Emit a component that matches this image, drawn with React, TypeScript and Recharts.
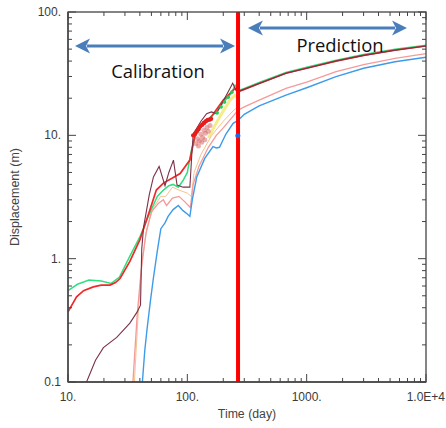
import { ComposedChart, Line, Scatter, XAxis, YAxis, ReferenceLine } from "recharts";

// axis ticks (log-log)
const X_MAJOR = [10, 100, 1000, 10000];
const X_LABELS = ["10.", "100.", "1000.", "1.0E+4"];
const X_MINOR = [20, 30, 40, 50, 60, 70, 80, 90, 200, 300, 400, 500, 600, 700, 800, 900, 2000, 3000, 4000, 5000, 6000, 7000, 8000, 9000];
const Y_MAJOR = [0.1, 1, 10, 100];
const Y_LABELS = ["0.1", "1.", "10.", "100."];
const Y_MINOR = [0.2, 0.3, 0.4, 0.5, 0.6, 0.7, 0.8, 0.9, 2, 3, 4, 5, 6, 7, 8, 9, 20, 30, 40, 50, 60, 70, 80, 90];
const X_DOMAIN = [10, 10000];
const Y_DOMAIN = [0.1, 100];

// end of calibration period (day)
const CALIBRATION_END = 266;

// simulated displacement curves: [time (day), displacement (m)]
const green = [
  [10, 0.55], [12, 0.62], [15, 0.67], [19, 0.66], [23, 0.63], [27, 0.71], [33, 1.05], [40, 1.5],
  [48, 2.3], [56, 3.2], [63, 3.6], [70, 3.9], [76, 4.0], [84, 3.8], [92, 4.3], [100, 5.0],
  [108, 7.5], [116, 9.7], [135, 12.5], [155, 14], [176, 15.5], [200, 18.5], [235, 22], [251, 25.5],
  [266, 23], [300, 24], [400, 26.8], [671, 32.4], [1000, 35.6], [1762, 40.6], [3000, 45.2], [5500, 49.8], [10000, 53.8],
];
const red = [
  [10, 0.37], [11.8, 0.49], [13.5, 0.55], [16.3, 0.59], [19, 0.61], [22.5, 0.61], [25, 0.64], [27.3, 0.69],
  [33, 0.95], [40, 1.42], [48, 2.4], [55, 3.6], [63, 4.1], [75, 4.5], [87, 4.9], [105, 6.3],
  [116, 10], [136, 12.9], [155, 13.7], [200, 19.3], [251, 24], [266, 22.6],
  [300, 23.6], [400, 26.3], [671, 31.9], [1000, 35], [1762, 40], [3000, 44.5], [5500, 49], [10000, 53],
];
const maroon = [
  [14.3, 0.1], [17, 0.15], [19.8, 0.19], [25.6, 0.23], [33, 0.3], [38, 0.37], [40.5, 0.42], [41.5, 1.2],
  [43, 1.8], [48, 3.3], [52, 4.6], [58, 5.6], [65, 3.9], [70, 5.0], [76.5, 6.3], [82, 3.95],
  [92, 3.8], [105, 3.8], [109, 7.0], [112, 10.2], [130, 13], [145, 15], [159, 15.5], [175, 15],
  [200, 19], [240, 26.4], [259, 22.6], [266, 22.6],
  [300, 23.6], [400, 26.3], [671, 31.9], [1000, 35], [1762, 40], [3000, 44.5], [5500, 49], [10000, 53],
];
const pink = [
  [35, 0.1], [38, 0.35], [41, 0.8], [45, 1.6], [50, 2.4], [57, 2.8], [63, 3.0], [67, 2.7],
  [75, 3.1], [85, 3.2], [95, 2.9], [106, 2.6], [112, 4.0], [125, 5.6], [150, 8], [175, 10],
  [200, 11.5], [245, 14.5], [266, 16],
  [300, 17], [400, 19.3], [671, 24], [1000, 27], [1762, 32.8], [3000, 37.5], [5500, 42], [10000, 46],
];
const orange = [
  [36, 0.1], [39, 0.4], [42, 1.0], [46, 1.8], [52, 2.6], [60, 3.2], [66, 3.2], [75, 3.8],
  [85, 3.6], [100, 3.4], [108, 3.2], [114, 5], [130, 7], [160, 10], [200, 13], [245, 16], [266, 17],
];
const yellow = [
  [150, 9.5], [170, 12], [190, 14.5], [210, 17], [230, 19.5], [250, 21], [266, 20],
];
const blue = [
  [42, 0.1], [44, 0.18], [46, 0.27], [49, 0.45], [52, 0.7], [56, 1.15], [60, 1.75], [65, 1.95],
  [69, 2.2], [76, 2.5], [84, 2.7], [92, 2.45], [100, 2.3], [105, 2.2], [110, 3.0], [120, 4.6],
  [140, 6.5], [164, 8.1], [175, 7.9], [186, 8.0], [210, 10.2], [242, 12.5], [266, 13.2],
  [300, 14.8], [400, 17.3], [671, 21.2], [1000, 24.3], [1762, 29.9], [3000, 35], [5500, 39.5], [10000, 43],
];

// observed points
const obsRed = [
  [112, 10], [116, 10.3], [120, 10.8], [124, 11.2], [128, 11.8], [133, 12.2], [138, 12.6], [143, 13],
  [148, 13.3], [153, 13.4], [158, 13.6],
];
const obsPink = [
  [118, 8.6], [122, 9.4], [126, 9.0], [130, 10.2], [134, 9.6], [138, 11], [142, 10.4], [146, 11.6],
  [150, 10.8], [155, 12], [124, 8.2], [132, 8.8], [140, 9.2],
];
const obsGreen = [[178, 15.2], [192, 17], [205, 18.6], [220, 20.4], [236, 22.4]];
const obsBlue = [[265, 9.9]];

const toRows = (s: number[][]) => s.map(([t, d]) => ({ t, d }));

const W = 446;
const H = 428;
const MARGIN = { top: 12, right: 20, bottom: 0, left: 0 };
const Y_AXIS_W = 68;
const X_AXIS_H = 46;
// plot box that follows from the margins and axis sizes above
const PLOT = {
  left: MARGIN.left + Y_AXIS_W,
  right: W - MARGIN.right,
  top: MARGIN.top,
  bottom: H - MARGIN.bottom - X_AXIS_H,
};

const AXIS = "#444444";
const TEXT = "#3a3a3a";
const ARROW = "#4a7ebb";
const FONT = "'Liberation Sans', Arial, sans-serif";

// log position of a value inside the plot box (same mapping as the log axes)
const logFrac = (v: number, [a, b]: number[]) => Math.log(v / a) / Math.log(b / a);
const xAt = (v: number) => PLOT.left + logFrac(v, X_DOMAIN) * (PLOT.right - PLOT.left);
const yAt = (v: number) => PLOT.bottom - logFrac(v, Y_DOMAIN) * (PLOT.bottom - PLOT.top);

// frame and inward tick marks on all four sides
function Frame() {
  const segs: string[] = [];
  const addX = (v: number, len: number) => {
    const x = xAt(v);
    segs.push(`M${x},${PLOT.bottom} L${x},${PLOT.bottom - len}`);
    segs.push(`M${x},${PLOT.top} L${x},${PLOT.top + len}`);
  };
  const addY = (v: number, len: number) => {
    const y = yAt(v);
    segs.push(`M${PLOT.left},${y} L${PLOT.left + len},${y}`);
    segs.push(`M${PLOT.right},${y} L${PLOT.right - len},${y}`);
  };
  X_MAJOR.forEach((v) => addX(v, 8));
  X_MINOR.forEach((v) => addX(v, 4));
  Y_MAJOR.forEach((v) => addY(v, 8));
  Y_MINOR.forEach((v) => addY(v, 4));
  return (
    <svg width={W} height={H} style={{ position: "absolute", left: 0, top: 0, pointerEvents: "none" }}>
      <rect
        x={PLOT.left}
        y={PLOT.top}
        width={PLOT.right - PLOT.left}
        height={PLOT.bottom - PLOT.top}
        fill="none"
        stroke={AXIS}
        strokeWidth={1.3}
      />
      <path d={segs.join(" ")} stroke={AXIS} strokeWidth={1} fill="none" />
    </svg>
  );
}

function BottomLabel(p: any) {
  const { x, y, payload } = p;
  const i = X_MAJOR.indexOf(payload.value);
  const last = i === X_MAJOR.length - 1;
  return (
    <text x={last ? x + 19 : x} y={y + 19} textAnchor={last ? "end" : "middle"} fontSize={12} fill={TEXT} fontFamily={FONT}>
      {X_LABELS[i]}
    </text>
  );
}

function LeftLabel(p: any) {
  const { x, y, payload } = p;
  return (
    <text x={x - 7} y={y + 4} textAnchor="end" fontSize={12} fill={TEXT} fontFamily={FONT}>
      {Y_LABELS[Y_MAJOR.indexOf(payload.value)]}
    </text>
  );
}

// double-headed arrow with caption
const arrowShape = (caption: string, dx: number, dy: number) => (p: any) => {
  const { x1, y1, x2, y2 } = p;
  const head = 15;
  const half = 7.5;
  return (
    <g>
      <line x1={x1 + head - 3} y1={y1} x2={x2 - head + 3} y2={y2} stroke={ARROW} strokeWidth={3} />
      <path d={`M${x1},${y1} L${x1 + head},${y1 - half} L${x1 + head - 4},${y1} L${x1 + head},${y1 + half} Z`} fill={ARROW} />
      <path d={`M${x2},${y2} L${x2 - head},${y2 - half} L${x2 - head + 4},${y2} L${x2 - head},${y2 + half} Z`} fill={ARROW} />
      <text
        x={(x1 + x2) / 2 + dx}
        y={y1 + dy}
        textAnchor="middle"
        fontSize={18.4}
        fill="#111"
        fontFamily="'Open Sans', sans-serif"
      >
        {caption}
      </text>
    </g>
  );
};

const lineProps = { type: "linear" as const, dataKey: "d", dot: false, isAnimationActive: false };
const dotShape = (r: number, fill: string, opacity = 1) => (p: any) => (
  <circle cx={p.cx} cy={p.cy} r={r} fill={fill} fillOpacity={opacity} />
);

export default function App() {
  return (
    <div style={{ position: "absolute", left: 0, top: 0, width: W, height: H, background: "#fff" }}>
      <ComposedChart width={W} height={H} margin={MARGIN}>
        <XAxis
          dataKey="t"
          type="number"
          scale="log"
          domain={X_DOMAIN}
          allowDataOverflow
          ticks={X_MAJOR}
          interval={0}
          tickSize={0}
          tickMargin={0}
          tickLine={false}
          tick={(p: any) => <BottomLabel {...p} />}
          axisLine={{ stroke: AXIS, strokeWidth: 1.3 }}
          height={X_AXIS_H}
          label={{
            content: ({ viewBox }: any) => (
              <text
                x={viewBox.x + viewBox.width / 2}
                y={viewBox.y + 36}
                textAnchor="middle"
                fontSize={12.3}
                fill="#444"
                fontFamily={FONT}
              >
                Time (day)
              </text>
            ),
          }}
        />
        <YAxis
          dataKey="d"
          type="number"
          scale="log"
          domain={Y_DOMAIN}
          allowDataOverflow
          ticks={Y_MAJOR}
          interval={0}
          tickSize={0}
          tickMargin={0}
          tickLine={false}
          tick={(p: any) => <LeftLabel {...p} />}
          axisLine={{ stroke: AXIS, strokeWidth: 1.3 }}
          width={Y_AXIS_W}
          label={{
            content: ({ viewBox }: any) => {
              const cx = viewBox.x + 19;
              const cy = viewBox.y + viewBox.height / 2;
              return (
                <text
                  x={cx}
                  y={cy}
                  transform={`rotate(-90, ${cx}, ${cy})`}
                  textAnchor="middle"
                  fontSize={12.5}
                  fill="#444"
                  fontFamily={FONT}
                >
                  Displacement (m)
                </text>
              );
            },
          }}
        />

        <Line {...lineProps} data={toRows(yellow)} stroke="#f3e45a" strokeWidth={3} strokeOpacity={0.7} />
        <Line {...lineProps} data={toRows(orange)} stroke="#f7c28e" strokeWidth={1} />
        <Line {...lineProps} data={toRows(pink)} stroke="#f59a9a" strokeWidth={1.3} />
        <Line {...lineProps} data={toRows(blue)} stroke="#3d9be9" strokeWidth={1.4} />
        <Line {...lineProps} data={toRows(green)} stroke="#2fe07e" strokeWidth={1.5} />
        <Line {...lineProps} data={toRows(red)} stroke="#ee2a2a" strokeWidth={1.7} />
        <Line {...lineProps} data={toRows(maroon)} stroke="#7b3148" strokeWidth={1.1} />

        <Scatter data={toRows(obsPink)} dataKey="d" fill="#d86a6a" isAnimationActive={false} shape={dotShape(2.5, "#d86a6a", 0.55)} />
        <Scatter data={toRows(obsRed)} dataKey="d" fill="#e81c1c" isAnimationActive={false} shape={dotShape(2.2, "#e81c1c")} />
        <Scatter data={toRows(obsGreen)} dataKey="d" fill="#22cc55" isAnimationActive={false} shape={dotShape(1.8, "#22cc55")} />
        <Scatter data={toRows(obsBlue)} dataKey="d" fill="#2266dd" isAnimationActive={false} shape={dotShape(2.5, "#2266dd")} />

        <ReferenceLine x={CALIBRATION_END} stroke="#ff0000" strokeWidth={4} />
        <ReferenceLine segment={[{ x: 11.45, y: 53 }, { x: 251, y: 53 }]} shape={arrowShape("Calibration", 3, 31.5)} />
        <ReferenceLine segment={[{ x: 322, y: 74.2 }, { x: 6930, y: 74.2 }]} shape={arrowShape("Prediction", 12.5, 24.5)} />
      </ComposedChart>
      <Frame />
    </div>
  );
}
